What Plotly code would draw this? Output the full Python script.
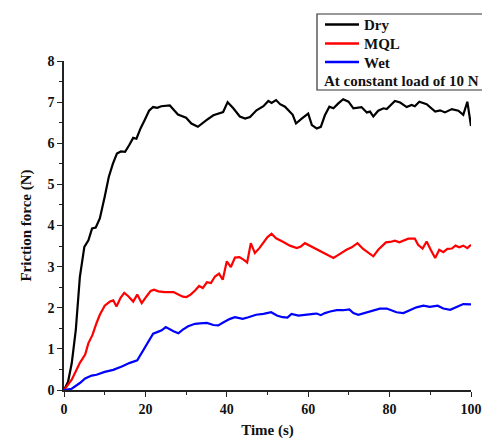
import plotly.graph_objects as go

dry_t = [0, 1, 1.9, 2.9, 3.9, 5, 6, 6.9, 7.8, 8.8, 10, 11, 12, 13, 14, 15, 16, 17, 17.8, 18.8,
         19.8, 20.9, 21.9, 22.9, 23.9, 26, 27, 28, 30, 31.3, 32.9, 34.4, 35, 36.7, 38.3, 39.1,
         40.2, 41.6, 43.2, 44.5, 45.7, 47.3, 49, 50.2, 51, 52.1, 53.1, 54.3, 56.2, 57, 58.4,
         60, 60.9, 62.1, 63.1, 64.1, 65.2, 66.2, 67.4, 68.6, 69.9, 71.1, 73.1, 74.4, 75.2, 76,
         77.2, 78.5, 79.3, 81.3, 82.6, 84.2, 85.4, 86.2, 87.3, 89.1, 91.2, 92.4, 93.6, 95.3,
         96.9, 98.1, 99.1, 100]
dry_v = [0, 0.2, 0.65, 1.46, 2.75, 3.48, 3.64, 3.93, 3.95, 4.17, 4.7, 5.18, 5.5, 5.75, 5.8,
         5.79, 5.95, 6.13, 6.11, 6.36, 6.56, 6.79, 6.88, 6.86, 6.9, 6.92, 6.81, 6.7, 6.62, 6.48,
         6.4, 6.52, 6.56, 6.68, 6.74, 6.76, 7.0, 6.85, 6.65, 6.6, 6.64, 6.8, 6.9, 7.03, 6.98,
         7.05, 6.95, 6.89, 6.69, 6.48, 6.6, 6.72, 6.44, 6.36, 6.4, 6.68, 6.89, 6.85, 6.97, 7.07,
         7.01, 6.85, 6.88, 6.75, 6.77, 6.65, 6.79, 6.85, 6.83, 7.03, 6.99, 6.88, 6.93, 6.9, 7.01,
         6.95, 6.77, 6.8, 6.75, 6.83, 6.79, 6.69, 7.01, 6.42]

mql_t = [0, 1.9, 3.9, 5.2, 6, 7, 8, 8.8, 10, 11.3, 12.1, 12.9, 13.9, 14.8, 15.8, 17, 18, 19.1,
         20.3, 21.3, 22.1, 23.2, 24.8, 26.9, 28.1, 29.2, 30.1, 31.1, 32.2, 33.2, 34.1, 35.1, 36.1,
         37.1, 38.1, 39, 40, 41, 42, 43.1, 44.1, 45, 45.9, 46.9, 48, 49, 50, 51, 52.1, 53.9, 55.5,
         57.2, 58.2, 59.2, 60.4, 61.7, 62.9, 64.1, 64.9, 66.2, 67.8, 69.4, 70.7, 72.1, 73.5, 74.8,
         76, 77.2, 79.1, 80.1, 81.3, 82.4, 83.4, 84.6, 86.2, 87, 88.1, 89.1, 90.1, 91.2, 92.2,
         93.2, 94.2, 95.3, 96.2, 97.1, 98.1, 99.1, 100]
mql_v = [0, 0.25, 0.66, 0.86, 1.14, 1.34, 1.63, 1.83, 2.05, 2.15, 2.18, 2.03, 2.24, 2.36, 2.28,
         2.15, 2.32, 2.11, 2.28, 2.41, 2.44, 2.4, 2.38, 2.38, 2.32, 2.27, 2.26, 2.32, 2.42, 2.53,
         2.48, 2.62, 2.6, 2.76, 2.83, 2.68, 3.13, 2.99, 3.22, 3.23, 3.17, 3.1, 3.57, 3.33, 3.45,
         3.59, 3.72, 3.8, 3.69, 3.6, 3.51, 3.45, 3.49, 3.57, 3.51, 3.43, 3.37, 3.33, 3.29, 3.21,
         3.31, 3.41, 3.47, 3.57, 3.43, 3.33, 3.25, 3.41, 3.59, 3.6, 3.63, 3.59, 3.64, 3.68, 3.68,
         3.53, 3.44, 3.61, 3.41, 3.21, 3.41, 3.35, 3.43, 3.44, 3.51, 3.47, 3.51, 3.45, 3.53]

wet_t = [0, 1.9, 3.9, 5.2, 6.8, 8, 10, 12.1, 14.2, 16.2, 18, 19.1, 20.3, 21.9, 23.2, 24, 25, 26,
         26.9, 28.1, 29.2, 30.5, 32.2, 33.4, 35.1, 36.7, 37.9, 39.1, 40.8, 42, 43.9, 45.3, 46.1,
         47.2, 49, 50.9, 52.3, 53.7, 54.9, 55.9, 57.6, 59.2, 61.3, 62.1, 63.1, 64.1, 65.4, 67,
         68.6, 70.1, 71.1, 72.3, 73.5, 75.2, 77.6, 79.3, 80.1, 81.7, 83.4, 85, 86.6, 88.3, 89.9,
         91.8, 93.2, 94.9, 96.5, 98.1, 100]
wet_v = [0, 0.03, 0.17, 0.28, 0.35, 0.37, 0.44, 0.49, 0.57, 0.66, 0.72, 0.9, 1.12, 1.37, 1.42,
         1.45, 1.53, 1.47, 1.43, 1.38, 1.47, 1.55, 1.61, 1.62, 1.63, 1.58, 1.57, 1.64, 1.73, 1.77,
         1.73, 1.77, 1.79, 1.83, 1.85, 1.89, 1.81, 1.77, 1.76, 1.85, 1.81, 1.82, 1.85, 1.86, 1.82,
         1.87, 1.91, 1.94, 1.94, 1.96, 1.87, 1.83, 1.86, 1.92, 1.98, 1.98, 1.95, 1.89, 1.87, 1.95,
         2.01, 2.05, 2.02, 2.05, 1.98, 1.95, 2.03, 2.09, 2.08]

series = [("Dry", dry_t, dry_v, "#000000"),
          ("MQL", mql_t, mql_v, "#ff0000"),
          ("Wet", wet_t, wet_v, "#0000ff")]
note = "At constant load of 10 N"

FONT = "Liberation Serif, Times New Roman, serif"
W, H = 482, 439
L, R, T, B = 64, 11, 61, 49
PW, PH = W - L - R, H - T - B


def px(x):
    return (x - L) / PW


def py(y):
    return (H - B - y) / PH


fig = go.Figure()
for name, t, v, c in series:
    fig.add_trace(go.Scatter(x=t, y=v, mode="lines", name=name,
                             line=dict(color=c, width=2.2)))

axis_common = dict(
    showgrid=False, zeroline=False, showline=True, linecolor="#222222", linewidth=1.5,
    ticks="outside", ticklen=5, tickwidth=1.2, tickcolor="#222222",
    tickfont=dict(family=FONT, size=14, color="#111111"),
    mirror=False, automargin=False,
    tickprefix="<b>", ticksuffix="</b>",
)

fig.update_layout(
    width=W, height=H,
    margin=dict(l=L, r=R, t=T, b=B),
    plot_bgcolor="white", paper_bgcolor="white",
    font=dict(family=FONT, size=13, color="#111111"),
    showlegend=False,
    xaxis=dict(range=[0, 100], tick0=0, dtick=20,
               minor=dict(dtick=10, ticks="outside", ticklen=3, tickcolor="#222222"),
               title=dict(text="<b>Time (s)</b>", font=dict(family=FONT, size=15), standoff=13),
               **axis_common),
    yaxis=dict(range=[0, 8], tick0=0, dtick=1,
               minor=dict(dtick=0.5, ticks="outside", ticklen=3, tickcolor="#222222"),
               title=dict(text="<b>Friction force (N)</b>", font=dict(family=FONT, size=15), standoff=12),
               **axis_common),
)

# Legend drawn by hand: box, sample lines and labels
fig.add_shape(type="rect", xref="paper", yref="paper",
              x0=px(317), x1=px(495), y0=py(90), y1=py(14),
              line=dict(color="#333333", width=1.2), fillcolor="rgba(0,0,0,0)")
rows_y = [24.5, 43.5, 62]
for (name, _, _, c), yy in zip(series, rows_y):
    fig.add_shape(type="line", xref="paper", yref="paper",
                  x0=px(325), x1=px(359), y0=py(yy), y1=py(yy),
                  line=dict(color=c, width=2.5))
    fig.add_annotation(xref="paper", yref="paper", x=px(362), y=py(yy + 0.5),
                       xanchor="left", yanchor="middle", showarrow=False,
                       text="<b>" + name + "</b>",
                       font=dict(family=FONT, size=15, color="#111111"))
fig.add_annotation(xref="paper", yref="paper", x=px(322), y=py(81),
                   xanchor="left", yanchor="middle", showarrow=False,
                   text="<b>" + note + "</b>",
                   font=dict(family=FONT, size=15, color="#111111"))

fig.write_html("out.html",
               config={"displayModeBar": False},
               post_script="document.body.style.margin='0';document.body.style.overflow='hidden';")
